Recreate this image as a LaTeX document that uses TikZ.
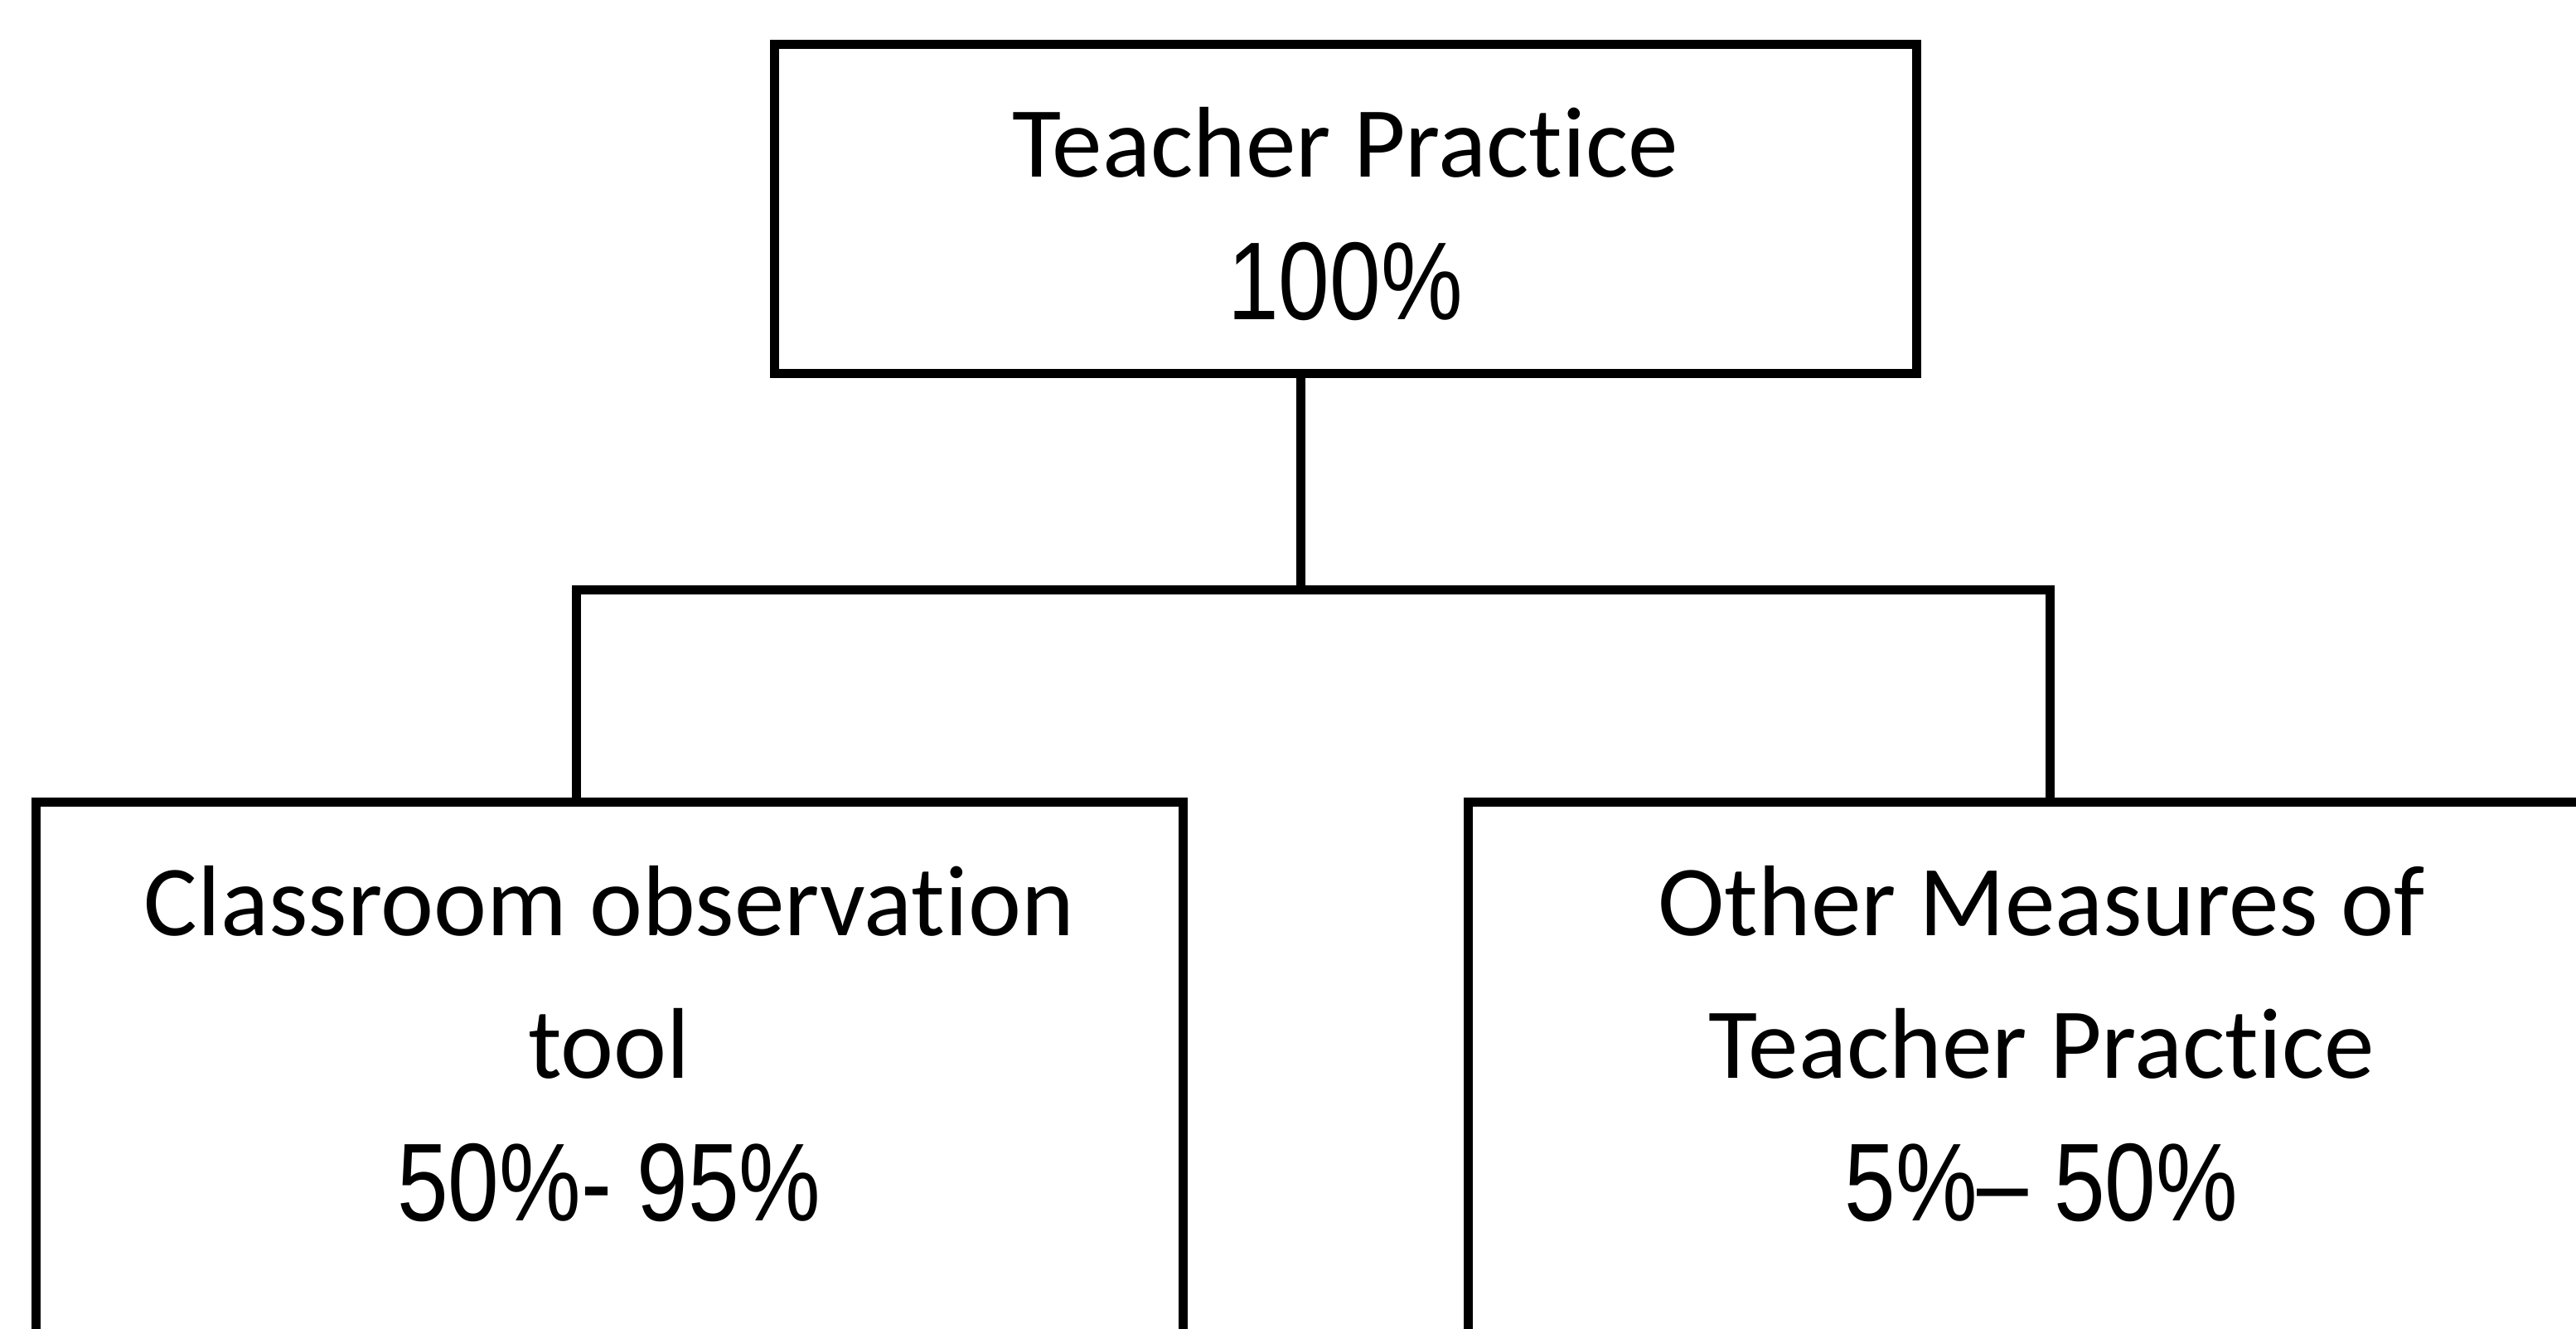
\documentclass[tikz,border=0pt]{standalone}
\usepackage{fontspec}
\setmainfont{Carlito}[Ligatures={NoCommon}]
\newfontfamily\numfont[FakeStretch=0.83]{Liberation Sans}
\newcommand{\pct}[1]{{\numfont\fontsize{38}{49}\selectfont #1}}

\begin{document}
\begin{tikzpicture}[
    box/.style={draw, line width=0.11cm, rectangle, inner sep=0pt, align=center,
      font=\fontsize{34.5}{49}\selectfont, anchor=north},
    link/.style={line width=0.11cm}
  ]
  \useasboundingbox (0,0) rectangle (31.08,16.03);
  \clip (0,0) rectangle (31.08,16.03);
  \node[box, minimum width=13.78cm, text height=3.32cm, text depth=0.65cm] (practice)
    at (16.23,15.55) {Teacher Practice\\\pct{100\%}};
  \node[box, minimum width=13.84cm, text height=5.05cm, text depth=2.36cm] (observation)
    at (7.35,6.41) {Classroom observation\\tool\\\pct{50\%- 95\%}};
  \node[box, minimum width=13.84cm, text height=5.05cm, text depth=2.36cm] (measures)
    at (24.63,6.41) {Other Measures of\\Teacher Practice\\\pct{5\%– 50\%}};
  % joints of the connector
  \coordinate (mid) at (15.69,8.91);
  \coordinate (lft) at (6.95,8.91);
  \coordinate (rgt) at (24.73,8.91);
  \draw[link] (practice.south -| mid) -- (mid);
  \draw[link] (observation.north -| lft) -- (lft) -- (rgt) -- (measures.north -| rgt);
\end{tikzpicture}
\end{document}
